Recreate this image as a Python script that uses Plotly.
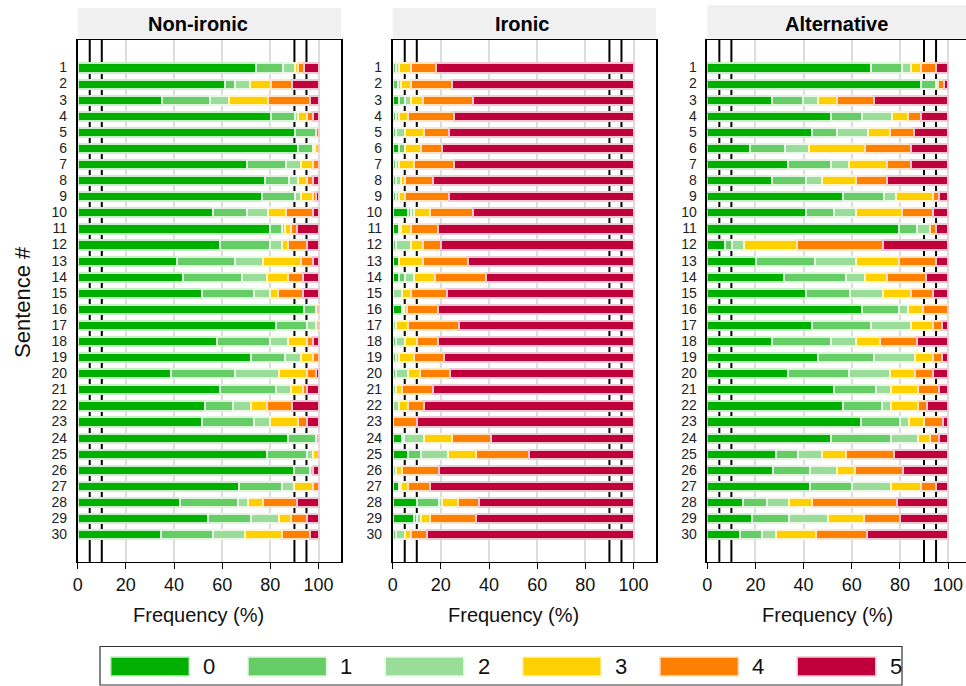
import plotly.graph_objects as go

# ---- data -----------------------------------------------------------------
SCORES = ["0", "1", "2", "3", "4", "5"]
SENTENCES = list(range(1, 31))
PANEL_TITLES = ["Non-ironic", "Ironic", "Alternative"]
X_TICKS = [0, 20, 40, 60, 80, 100]
REF_LINES = [5, 10, 90, 95]

# share (%) of each score per sentence, columns follow SCORES
NON_IRONIC = [
    [73.8, 11.2, 5.0, 1.3, 2.6, 6.1],
    [61.2, 3.8, 6.3, 8.8, 8.7, 11.2],
    [34.9, 20.1, 7.6, 16.3, 17.5, 3.6],
    [80.1, 9.9, 1.4, 3.6, 2.6, 2.4],
    [90.0, 8.8, 0.0, 0.0, 1.2, 0.0],
    [91.3, 6.3, 1.0, 1.4, 0.0, 0.0],
    [70.1, 16.3, 6.1, 5.1, 2.4, 0.0],
    [77.6, 9.9, 3.8, 3.7, 2.6, 2.4],
    [76.3, 13.9, 2.3, 5.1, 1.2, 1.2],
    [56.2, 13.9, 8.8, 7.4, 11.3, 2.4],
    [79.6, 5.2, 1.1, 2.6, 2.6, 8.9],
    [59.1, 20.5, 5.0, 2.7, 7.7, 5.0],
    [41.0, 24.4, 11.6, 15.4, 5.2, 2.4],
    [43.6, 24.4, 10.4, 8.9, 6.3, 6.4],
    [51.4, 21.7, 6.5, 3.6, 10.4, 6.4],
    [93.8, 5.0, 0.0, 1.2, 0.0, 0.0],
    [82.1, 12.9, 3.8, 1.2, 0.0, 0.0],
    [57.8, 21.8, 7.7, 7.7, 2.6, 2.4],
    [71.9, 14.1, 6.5, 5.1, 2.4, 0.0],
    [38.5, 26.9, 18.0, 11.6, 3.8, 1.2],
    [59.1, 23.0, 6.4, 5.1, 1.4, 5.0],
    [52.8, 11.5, 7.6, 6.5, 10.4, 11.2],
    [51.4, 21.7, 6.5, 11.7, 3.7, 5.0],
    [87.3, 11.5, 1.2, 0.0, 0.0, 0.0],
    [78.4, 16.6, 2.6, 2.4, 0.0, 0.0],
    [89.9, 6.5, 1.2, 0.0, 0.0, 2.4],
    [66.9, 18.0, 5.0, 7.7, 2.4, 0.0],
    [42.2, 24.4, 3.9, 6.5, 14.1, 8.9],
    [53.9, 18.0, 11.5, 5.1, 6.5, 5.0],
    [34.5, 21.7, 13.2, 15.2, 11.7, 3.7],
]

IRONIC = [
    [0.0, 1.2, 1.2, 5.2, 10.1, 82.3],
    [0.0, 2.2, 1.3, 4.1, 16.8, 75.6],
    [2.4, 2.6, 2.5, 5.1, 20.6, 66.8],
    [0.0, 1.2, 1.2, 3.8, 19.3, 74.5],
    [0.0, 1.2, 3.8, 7.7, 10.4, 76.9],
    [2.4, 2.6, 0.0, 6.5, 9.0, 79.5],
    [0.0, 1.2, 1.2, 6.5, 16.6, 74.5],
    [0.0, 1.2, 2.3, 1.5, 11.6, 83.4],
    [0.0, 1.2, 1.2, 2.6, 18.1, 76.9],
    [6.2, 1.3, 1.4, 6.3, 18.0, 66.8],
    [2.4, 0.0, 1.1, 4.0, 11.1, 81.4],
    [0.0, 1.2, 6.3, 5.0, 7.3, 80.2],
    [2.4, 0.0, 0.0, 10.1, 18.8, 68.7],
    [2.4, 2.6, 3.7, 8.8, 21.3, 61.2],
    [0.0, 0.0, 3.7, 3.8, 14.9, 77.6],
    [3.7, 0.0, 1.0, 1.0, 12.9, 81.4],
    [0.0, 0.0, 1.2, 5.0, 21.2, 72.6],
    [0.0, 1.2, 3.8, 4.9, 8.7, 81.4],
    [0.0, 1.2, 1.2, 6.3, 12.4, 78.9],
    [0.0, 1.2, 5.0, 5.0, 12.3, 76.5],
    [0.0, 0.0, 1.2, 2.5, 12.9, 83.4],
    [0.0, 0.0, 2.4, 3.8, 6.5, 87.3],
    [0.0, 0.0, 0.0, 0.0, 10.1, 89.9],
    [3.7, 1.0, 8.0, 11.7, 16.5, 59.1],
    [6.2, 5.3, 11.4, 11.7, 21.8, 43.6],
    [0.0, 0.0, 1.2, 2.5, 15.4, 80.9],
    [2.4, 0.0, 1.1, 2.7, 9.0, 84.8],
    [10.1, 9.0, 1.1, 6.7, 9.0, 64.1],
    [8.9, 1.2, 1.4, 3.7, 19.4, 65.4],
    [0.0, 1.2, 3.8, 2.5, 6.5, 86.0],
]

ALTERNATIVE = [
    [68.0, 12.9, 3.7, 4.1, 6.3, 5.0],
    [88.7, 6.3, 1.0, 0.0, 2.6, 1.4],
    [27.0, 12.8, 6.5, 7.8, 15.2, 30.7],
    [51.5, 12.8, 12.7, 6.5, 5.2, 11.3],
    [43.7, 10.4, 12.7, 9.1, 10.1, 14.0],
    [18.0, 14.2, 10.3, 23.1, 19.2, 15.2],
    [33.5, 18.0, 7.6, 15.5, 10.2, 15.2],
    [27.0, 14.1, 6.5, 14.1, 12.9, 25.4],
    [56.6, 16.7, 5.1, 15.4, 2.6, 3.6],
    [41.2, 11.6, 8.9, 19.4, 12.8, 6.1],
    [79.7, 7.7, 5.1, 0.0, 2.7, 4.8],
    [7.6, 2.8, 5.0, 21.9, 35.9, 26.8],
    [20.5, 24.5, 16.7, 18.0, 15.3, 5.0],
    [32.1, 25.7, 7.8, 9.0, 16.5, 8.9],
    [41.2, 18.0, 14.0, 11.6, 9.0, 6.2],
    [64.3, 15.4, 3.8, 6.4, 10.1, 0.0],
    [43.7, 24.5, 16.6, 9.0, 3.7, 2.5],
    [27.0, 24.5, 10.2, 10.1, 15.6, 12.6],
    [46.3, 23.0, 16.9, 7.6, 3.7, 2.5],
    [33.5, 25.6, 16.7, 10.4, 7.6, 6.2],
    [52.6, 17.7, 6.2, 11.2, 8.8, 3.5],
    [56.6, 16.2, 3.5, 11.4, 3.7, 8.6],
    [64.0, 16.2, 3.6, 6.2, 7.8, 2.2],
    [51.5, 25.0, 11.1, 5.1, 3.8, 3.5],
    [28.8, 8.8, 10.0, 10.1, 20.0, 22.3],
    [27.5, 15.1, 11.2, 7.6, 19.9, 18.7],
    [42.6, 17.6, 16.3, 12.4, 6.3, 4.8],
    [15.1, 9.9, 8.9, 9.8, 35.1, 21.2],
    [18.8, 15.1, 16.3, 15.1, 14.9, 19.8],
    [13.7, 9.0, 6.1, 16.3, 21.4, 33.5],
]

PANEL_DATA = [NON_IRONIC, IRONIC, ALTERNATIVE]

# ---- styling --------------------------------------------------------------
COLORS = ["#00B000", "#66CC66", "#99DD99", "#FFD000", "#FF8000", "#C0003A"]


def tint(hex_color, amount=0.78):
    r, g, b = (int(hex_color[i:i + 2], 16) for i in (1, 3, 5))
    mix = lambda c: round(c + (255 - c) * amount)
    return f"rgb({mix(r)},{mix(g)},{mix(b)})"


EDGES = [tint(c) for c in COLORS]
FONT = "Arial, Liberation Sans, sans-serif"

W, H = 966, 686
PX_PER_UNIT = 2.408          # horizontal pixels per percentage point
PANEL_LEFT = [77.7, 392.7, 707.3]
FULL_SPAN = 109.3            # x range shown in a full panel
PLOT_TOP, PLOT_BOTTOM = 39.5, 562.0
Y_RANGE = [31.73, -0.74]
STRIP_TOPS = [8, 8, 5]
TITLE_CENTERS = [198, 522, 836]


def fx(px):
    return px / W


def fy(py):
    return 1 - py / H


fig = go.Figure()
layout_axes = {}
shapes = []
annotations = []

for p, (title, rows) in enumerate(zip(PANEL_TITLES, PANEL_DATA)):
    sfx = "" if p == 0 else str(p + 1)
    xa, ya = "x" + sfx, "y" + sfx
    left = PANEL_LEFT[p]
    right = min(W, left + FULL_SPAN * PX_PER_UNIT)
    x_max = (right - left) / PX_PER_UNIT
    full = right < W

    for k, score in enumerate(SCORES):
        fig.add_trace(go.Bar(
            x=[row[k] for row in rows],
            y=SENTENCES,
            orientation="h",
            name=score,
            width=0.57,
            marker=dict(color=COLORS[k], line=dict(color=EDGES[k], width=2)),
            showlegend=False,
            xaxis=xa,
            yaxis=ya,
        ))

    layout_axes["xaxis" + sfx] = dict(
        domain=[fx(left), fx(right)],
        anchor=ya,
        range=[0, x_max],
        tickvals=X_TICKS,
        ticktext=[str(v) for v in X_TICKS],
        ticks="outside",
        ticklen=6,
        tickwidth=1.3,
        tickcolor="black",
        tickfont=dict(family=FONT, size=18, color="#111"),
        showgrid=True,
        gridcolor="#DDDDDD",
        gridwidth=1.5,
        zeroline=False,
        showline=True,
        linecolor="black",
        linewidth=1.3,
        mirror=True,
        automargin=False,
        fixedrange=True,
    )
    layout_axes["yaxis" + sfx] = dict(
        domain=[fy(PLOT_BOTTOM), fy(PLOT_TOP)],
        anchor=xa,
        range=Y_RANGE,
        tickvals=SENTENCES,
        ticktext=[str(s) for s in SENTENCES],
        ticks="",
        ticklabelstandoff=6,
        tickfont=dict(family=FONT, size=14, color="#222"),
        showgrid=False,
        zeroline=False,
        showline=True,
        linecolor="black",
        linewidth=1.5,
        mirror=full,
        automargin=False,
        fixedrange=True,
    )

    # reference lines at 5/10/90/95 %, behind the bars
    for v in REF_LINES:
        shapes.append(dict(
            type="line", xref=xa, yref=ya,
            x0=v, x1=v, y0=Y_RANGE[0], y1=Y_RANGE[1],
            line=dict(color="black", width=2), layer="below",
        ))

    # panel strip
    shapes.append(dict(
        type="rect", xref="paper", yref="paper",
        x0=fx(left), x1=fx(right + (0 if full else 10)),
        y0=fy(PLOT_TOP - 1), y1=fy(STRIP_TOPS[p]),
        fillcolor="#F0F0F0", line=dict(width=0), layer="below",
    ))
    annotations.append(dict(
        text=f"<b>{title}</b>", xref="paper", yref="paper",
        x=fx(TITLE_CENTERS[p]), y=fy(24), xanchor="center", yanchor="middle",
        showarrow=False, font=dict(family=FONT, size=20, color="black"),
    ))
    annotations.append(dict(
        text="Frequency (%)", xref="paper", yref="paper",
        x=fx(left + 50 * PX_PER_UNIT), y=fy(615), xanchor="center", yanchor="middle",
        showarrow=False, font=dict(family=FONT, size=20, color="#111"),
    ))

annotations.append(dict(
    text="Sentence #", xref="paper", yref="paper",
    x=fx(22), y=fy(302), xanchor="center", yanchor="middle", textangle=-90,
    showarrow=False, font=dict(family=FONT, size=22, color="#111"),
))

# legend box with one swatch per score
shapes.append(dict(
    type="rect", xref="paper", yref="paper",
    x0=fx(100), x1=fx(902), y0=fy(685), y1=fy(646.5),
    line=dict(color="#333", width=1.2), fillcolor="white",
))
for k, score in enumerate(SCORES):
    x0 = 110.7 + k * 137.3
    shapes.append(dict(
        type="rect", xref="paper", yref="paper",
        x0=fx(x0), x1=fx(x0 + 78.6), y0=fy(676), y1=fy(657),
        fillcolor=COLORS[k], line=dict(color=EDGES[k], width=1.5),
    ))
    annotations.append(dict(
        text=score, xref="paper", yref="paper",
        x=fx(x0 + 98.3), y=fy(666.5), xanchor="center", yanchor="middle",
        showarrow=False, font=dict(family=FONT, size=22, color="#111"),
    ))

fig.update_layout(
    width=W, height=H,
    margin=dict(l=0, r=0, t=0, b=0),
    autosize=False,
    barmode="stack",
    bargap=0,
    plot_bgcolor="white",
    paper_bgcolor="white",
    shapes=shapes,
    annotations=annotations,
    showlegend=False,
    **layout_axes,
)

fig.write_html("out.html")
